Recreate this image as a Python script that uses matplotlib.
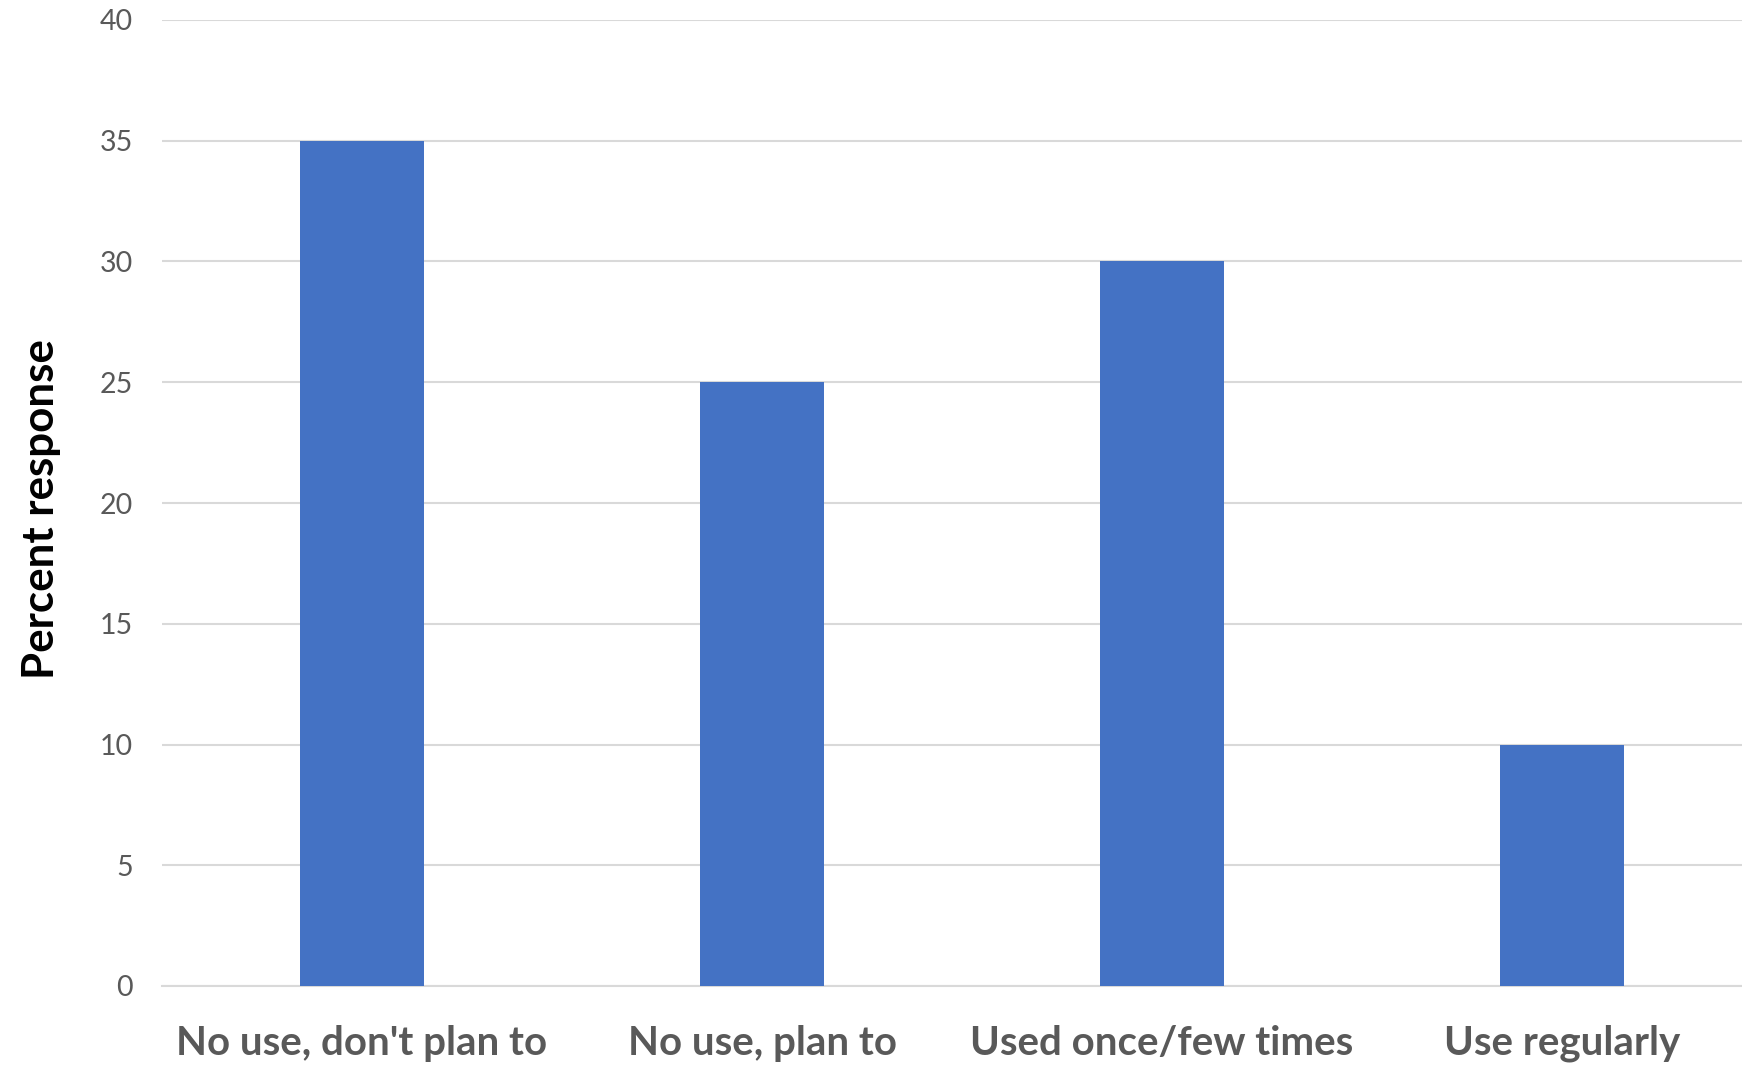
import matplotlib
matplotlib.use("Agg")
import matplotlib.pyplot as plt

categories = ["No use, don't plan to", "No use, plan to", "Used once/few times", "Use regularly"]
values = [35, 25, 30, 10]
yticks = [0, 5, 10, 15, 20, 25, 30, 35, 40]

plt.rcParams['font.family'] = ['Lato', 'DejaVu Sans']

fig = plt.figure(figsize=(17.42, 10.65), dpi=100)
ax = fig.add_axes([162/1742, 79/1065, 1600/1742, 966/1065])

x = list(range(len(categories)))
ax.bar(x, values, width=0.31, color="#4472C4", zorder=3)

ax.set_xlim(-0.5, 3.5)
ax.set_ylim(0, 40)
ax.set_yticks(yticks)
ax.set_yticklabels([str(t) for t in yticks])
ax.set_xticks(x)
ax.set_xticklabels(categories, fontsize=29, fontweight='bold', color="#595959")
ax.tick_params(axis='x', length=0, pad=28)
ax.tick_params(axis='y', length=0, pad=21, labelsize=20.5, labelcolor="#595959")

ax.grid(axis='y', color="#d9d9d9", linewidth=1.5, zorder=0)
for s in ['top', 'right', 'left']:
    ax.spines[s].set_visible(False)
ax.spines['bottom'].set_color("#d9d9d9")
ax.spines['bottom'].set_linewidth(1.5)

ax.set_ylabel("Percent response", fontsize=31.6, fontweight='bold', color='black', labelpad=28)
ax.yaxis.label.set_y(0.494)

fig.savefig("out.png", dpi=100)
